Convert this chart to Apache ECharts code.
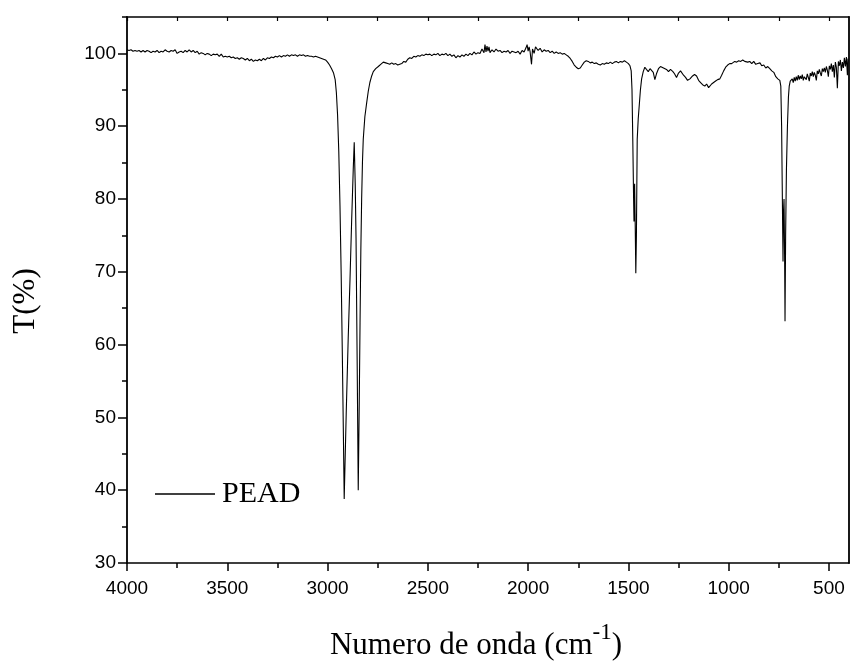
<!DOCTYPE html>
<html>
<head>
<meta charset="utf-8">
<script src="https://cdn.jsdelivr.net/npm/echarts@6/dist/echarts.min.js"></script>
<style>
html,body{margin:0;padding:0;background:#fff;}
#chart{width:850px;height:666px;}
</style>
</head>
<body>
<div id="chart"></div>
<script>
// ---- data ----
const seriesName = 'PEAD';
const xMajorTicks = [500, 1000, 1500, 2000, 2500, 3000, 3500, 4000];
const xMinorTicks = [750, 1250, 1750, 2250, 2750, 3250, 3750];
const yMajorTicks = [30, 40, 50, 60, 70, 80, 90, 100];
const yMinorTicks = [35, 45, 55, 65, 75, 85, 95, 105];
// [wavenumber (cm-1), transmittance (%)]
const spectrum = [
[4000,100.5],[3990,100.4],[3980,100.5],[3970,100.3],[3960,100.4],[3950,100.3],[3940,100.4],[3930,100.2],[3920,100.4],[3910,100.2],
[3900,100.4],[3890,100.3],[3880,100.1],[3870,100.3],[3860,100.2],[3850,100.4],[3840,100.1],[3830,100.3],[3820,100.2],[3810,100.5],
[3800,100.3],[3790,100.2],[3780,100.4],[3770,100.3],[3760,100.5],[3750,100.0],[3740,100.2],[3730,100.3],[3720,100.1],[3710,100.4],
[3700,100.2],[3690,100.5],[3680,100.2],[3670,100.4],[3660,100.1],[3650,100.3],[3640,99.9],[3630,100.1],[3620,100.0],[3610,99.8],
[3600,100.0],[3590,99.9],[3580,99.7],[3570,99.9],[3560,99.8],[3550,99.9],[3540,99.6],[3530,99.9],[3520,99.5],[3510,99.6],
[3500,99.5],[3490,99.6],[3480,99.4],[3470,99.5],[3460,99.3],[3450,99.4],[3440,99.2],[3430,99.4],[3420,99.3],[3410,99.1],
[3400,99.3],[3390,99.0],[3380,99.2],[3370,98.9],[3360,99.1],[3350,99.0],[3340,99.2],[3330,99.0],[3320,99.3],[3310,99.1],
[3300,99.4],[3290,99.3],[3280,99.5],[3270,99.4],[3260,99.6],[3250,99.5],[3240,99.7],[3230,99.5],[3220,99.7],[3210,99.6],
[3200,99.8],[3190,99.6],[3180,99.8],[3170,99.7],[3160,99.8],[3150,99.6],[3140,99.8],[3130,99.7],[3120,99.8],[3110,99.6],
[3100,99.7],[3090,99.6],[3080,99.6],[3070,99.5],[3060,99.6],[3050,99.5],[3040,99.4],[3030,99.3],[3020,99.2],[3010,99.1],
[3000,98.8],[2990,98.4],[2980,97.9],[2970,97.3],[2962,96.4],[2956,94.6],[2950,91.5],[2944,86.5],[2938,79.0],[2932,69.5],
[2926,58.0],[2921,47.5],[2917,38.8],[2907,50.5],[2897,60.9],[2888,69.0],[2880,76.9],[2872,84.0],[2867,87.8],[2862,82.0],
[2858,74.6],[2852,56.4],[2847,40.0],[2842,52.0],[2838,63.0],[2834,73.0],[2830,80.0],[2826,85.0],[2822,88.2],[2814,91.3],
[2805,93.2],[2797,94.8],[2789,96.0],[2780,96.9],[2772,97.5],[2760,97.9],[2747,98.2],[2735,98.5],[2722,98.8],[2710,98.7],
[2700,98.6],[2690,98.5],[2680,98.7],[2670,98.5],[2660,98.6],[2650,98.4],[2640,98.5],[2630,98.6],[2620,98.9],[2610,98.8],
[2600,99.2],[2590,99.4],[2580,99.3],[2570,99.6],[2560,99.5],[2550,99.7],[2540,99.6],[2530,99.8],[2520,99.7],[2510,99.9],
[2500,99.8],[2490,99.9],[2480,99.7],[2470,99.9],[2460,99.8],[2450,100.0],[2440,99.7],[2430,99.9],[2420,99.8],[2410,100.0],
[2400,99.7],[2390,99.9],[2380,99.6],[2370,99.8],[2360,99.4],[2350,99.7],[2340,99.5],[2330,99.8],[2320,99.6],[2310,99.9],
[2300,99.7],[2290,100.0],[2280,99.8],[2270,100.2],[2260,99.9],[2250,100.1],[2240,100.0],[2230,100.6],[2220,100.1],[2215,101.2],
[2210,100.2],[2205,101.0],[2200,100.3],[2195,100.9],[2190,100.1],[2180,100.5],[2170,100.2],[2160,100.6],[2150,100.3],[2140,100.4],
[2130,100.1],[2120,100.3],[2110,100.2],[2100,100.4],[2090,100.0],[2080,100.3],[2070,100.2],[2060,100.1],[2050,100.3],[2040,99.9],
[2030,100.4],[2020,100.2],[2010,100.8],[2005,101.2],[2000,100.3],[1995,100.9],[1990,100.2],[1983,98.5],[1978,100.6],[1970,100.0],
[1963,100.9],[1958,101.0],[1950,100.4],[1940,100.7],[1930,100.2],[1920,100.5],[1910,100.3],[1900,100.4],[1890,100.1],[1880,100.3],
[1870,100.0],[1860,100.2],[1850,100.0],[1840,100.1],[1830,99.9],[1820,100.0],[1810,99.8],[1800,99.6],[1790,99.3],[1780,98.9],
[1770,98.4],[1760,98.1],[1750,97.9],[1740,98.0],[1730,98.4],[1720,98.8],[1710,99.0],[1700,98.9],[1690,98.7],[1680,98.8],
[1670,98.6],[1660,98.7],[1650,98.5],[1640,98.4],[1630,98.6],[1620,98.5],[1610,98.7],[1600,98.6],[1590,98.8],[1580,98.6],
[1570,98.8],[1560,98.9],[1550,98.7],[1540,98.9],[1530,98.8],[1520,99.0],[1510,98.8],[1500,98.6],[1492,98.3],[1486,97.6],
[1482,95.0],[1478,88.0],[1474,80.0],[1472,76.9],[1469,82.1],[1466,76.5],[1463,69.8],[1460,75.0],[1456,88.2],[1451,91.0],
[1446,92.8],[1440,95.0],[1434,96.5],[1426,97.5],[1418,98.1],[1410,97.8],[1401,97.5],[1392,97.9],[1384,98.1],[1376,97.4],
[1368,96.4],[1360,97.2],[1350,97.9],[1340,98.2],[1334,98.3],[1325,98.0],[1318,98.1],[1310,97.8],[1300,97.5],[1290,97.8],
[1278,97.5],[1270,97.2],[1260,96.7],[1250,97.3],[1240,97.6],[1235,97.4],[1225,97.0],[1215,96.7],[1205,96.3],[1193,96.5],
[1180,96.9],[1170,97.1],[1160,96.9],[1150,96.3],[1140,96.0],[1130,95.7],[1119,95.5],[1110,95.8],[1100,95.3],[1094,95.3],
[1085,95.8],[1075,96.0],[1065,96.2],[1055,96.4],[1044,96.5],[1035,97.0],[1025,97.6],[1015,98.1],[1005,98.4],[995,98.6],
[985,98.6],[977,98.7],[970,98.9],[960,98.8],[950,99.0],[940,98.9],[930,99.1],[920,98.9],[911,99.0],[905,98.8],
[895,98.9],[885,98.6],[875,98.9],[865,98.5],[855,98.6],[844,98.7],[835,98.3],[825,98.4],[815,98.0],[805,98.2],
[795,97.9],[785,97.6],[775,97.4],[765,96.8],[755,96.5],[745,96.3],[740,95.5],[736,90.0],[733,82.0],[730,82.1],
[729,71.4],[727,78.0],[724,80.0],[721,72.0],[719,63.2],[716,75.0],[712,84.0],[707,90.0],[702,94.0],[698,95.5],
[693,96.2],[688,96.0],[683,96.5],[678,96.0],[673,96.7],[668,96.2],[663,96.8],[658,96.3],[653,97.0],[648,96.4],
[643,96.9],[638,96.5],[633,97.1],[628,96.3],[623,96.8],[618,97.0],[613,96.4],[608,97.2],[603,96.7],[598,96.2],
[593,97.3],[588,96.9],[583,97.5],[578,96.8],[573,97.4],[568,97.0],[563,96.3],[558,97.6],[553,97.2],[548,97.8],
[543,97.3],[538,96.9],[533,97.9],[528,97.5],[523,98.0],[518,97.4],[513,98.2],[508,97.7],[503,96.8],[498,98.3],
[493,97.8],[488,98.6],[483,97.5],[478,98.4],[473,96.7],[468,98.8],[463,98.1],[458,95.2],[453,98.9],[448,98.3],
[443,99.1],[438,97.6],[433,98.8],[428,98.0],[423,99.4],[418,98.2],[413,99.5],[408,97.0],[405,99.3]
];

const axisColor = '#000';
const tickFont = { fontFamily: 'Liberation Sans, Arial, sans-serif', fontSize: 19, color: '#000' };
const serif = 'Liberation Serif, Times New Roman, serif';
const plainNum = v => String(v);

const chart = echarts.init(document.getElementById('chart'), null, { renderer: 'canvas' });
const xBase = { type: 'value', min: 400, max: 4000, inverse: true, splitLine: { show: false }, gridIndex: 0 };
const yBase = { type: 'value', min: 30, max: 105, splitLine: { show: false }, gridIndex: 0 };

chart.setOption({
  animation: false,
  backgroundColor: '#fff',
  grid: { left: 127, top: 17, width: 722, bottom: 100, containLabel: false },
  legend: {
    show: true, left: 150, top: 474, orient: 'vertical',
    icon: 'rect', itemWidth: 60, itemHeight: 1.5, itemGap: 6,
    itemStyle: { color: '#000', borderWidth: 0 },
    textStyle: { fontFamily: serif, fontSize: 30, color: '#000', padding: [0, 0, 0, 2] },
    data: [{ name: seriesName }]
  },
  xAxis: [
    Object.assign({}, xBase, {
      position: 'bottom',
      axisLine: { show: true, lineStyle: { color: axisColor, width: 1.5 } },
      axisTick: { show: true, inside: false, length: 8, lineStyle: { color: axisColor, width: 1.5 }, customValues: xMajorTicks },
      axisLabel: Object.assign({ show: true, margin: 16, customValues: xMajorTicks, formatter: plainNum }, tickFont),
      name: '{a|Numero de onda (cm}{s|-1}{a|)}',
      nameLocation: 'middle', nameGap: 62,
      nameTextStyle: {
        padding: [0, 24, 0, 0],
        rich: {
          a: { fontFamily: serif, fontSize: 31, color: '#000', verticalAlign: 'bottom', lineHeight: 36 },
          s: { fontFamily: serif, fontSize: 23, color: '#000', verticalAlign: 'bottom', lineHeight: 36, padding: [0, 0, 17, 0] }
        }
      }
    }),
    Object.assign({}, xBase, {
      position: 'bottom',
      axisLine: { show: false },
      axisTick: { show: true, inside: false, length: 5, lineStyle: { color: axisColor, width: 1.5 }, customValues: xMinorTicks },
      axisLabel: { show: false }
    }),
    Object.assign({}, xBase, {
      position: 'top',
      axisLine: { show: true, lineStyle: { color: axisColor, width: 1.5 } },
      axisTick: { show: true, inside: true, length: 4, lineStyle: { color: axisColor, width: 1.2 }, customValues: xMajorTicks.concat(xMinorTicks) },
      axisLabel: { show: false }
    })
  ],
  yAxis: [
    Object.assign({}, yBase, {
      position: 'left',
      axisLine: { show: true, lineStyle: { color: axisColor, width: 1.8 } },
      axisTick: { show: true, inside: false, length: 9, lineStyle: { color: axisColor, width: 1.5 }, customValues: yMajorTicks },
      axisLabel: Object.assign({ show: true, margin: 11, customValues: yMajorTicks, formatter: plainNum }, tickFont),
      name: 'T(%)', nameLocation: 'middle', nameRotate: 90, nameGap: 86,
      nameTextStyle: { fontFamily: serif, fontSize: 31, color: '#000', padding: [0, 22, 0, 0] }
    }),
    Object.assign({}, yBase, {
      position: 'left',
      axisLine: { show: false },
      axisTick: { show: true, inside: false, length: 5, lineStyle: { color: axisColor, width: 1.5 }, customValues: yMinorTicks },
      axisLabel: { show: false }
    }),
    Object.assign({}, yBase, {
      position: 'right',
      axisLine: { show: true, lineStyle: { color: axisColor, width: 1.8 } },
      axisTick: { show: false },
      axisLabel: { show: false }
    })
  ],
  series: [{
    name: seriesName,
    type: 'line',
    xAxisIndex: 0, yAxisIndex: 0,
    data: spectrum,
    showSymbol: false,
    symbol: 'none',
    smooth: false,
    lineStyle: { color: '#000', width: 1.1 },
    itemStyle: { color: '#000' },
    clip: true
  }]
});
</script>
</body>
</html>
